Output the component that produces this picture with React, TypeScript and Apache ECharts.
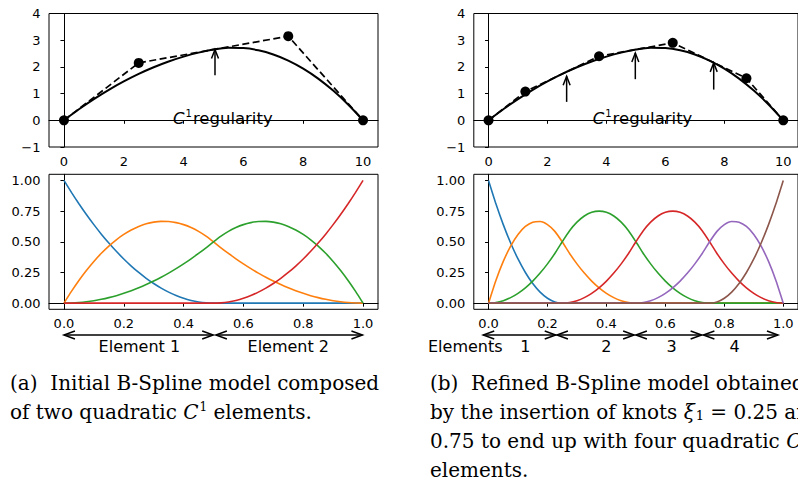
import React, { useEffect, useRef } from 'react';
import * as echarts from 'echarts';

// ---- data ----
const CURVE_X = [0, 0.5, 1, 1.5, 2, 2.5, 3, 3.5, 4, 4.5, 5, 5.5, 6, 6.5, 7, 7.5, 8, 8.5, 9, 9.5, 10];
const CURVE_Y = [0, 0.414, 0.794, 1.142, 1.456, 1.738, 1.986, 2.202, 2.384, 2.534, 2.65, 2.714, 2.704, 2.622, 2.466, 2.238, 1.936, 1.562, 1.114, 0.594, 0];
const CTRL_A_X = [0, 2.5, 7.5, 10];
const CTRL_A_Y = [0, 2.15, 3.15, 0];
const CTRL_B_X = [0, 1.25, 3.75, 6.25, 8.75, 10];
const CTRL_B_Y = [0, 1.075, 2.4, 2.9, 1.575, 0];
const PARAM = [0, 0.025, 0.05, 0.075, 0.1, 0.125, 0.15, 0.175, 0.2, 0.225, 0.25, 0.275, 0.3, 0.325, 0.35, 0.375, 0.4, 0.425, 0.45, 0.475, 0.5,
  0.525, 0.55, 0.575, 0.6, 0.625, 0.65, 0.675, 0.7, 0.725, 0.75, 0.775, 0.8, 0.825, 0.85, 0.875, 0.9, 0.925, 0.95, 0.975, 1];
const BASIS_A_0 = [1, 0.9025, 0.81, 0.7225, 0.64, 0.5625, 0.49, 0.4225, 0.36, 0.3025, 0.25, 0.2025, 0.16, 0.1225, 0.09, 0.0625, 0.04, 0.0225, 0.01, 0.0025, 0,
  0, 0, 0, 0, 0, 0, 0, 0, 0, 0, 0, 0, 0, 0, 0, 0, 0, 0, 0, 0];
const BASIS_A_1 = [0, 0.09625, 0.185, 0.26625, 0.34, 0.40625, 0.465, 0.51625, 0.56, 0.59625, 0.625, 0.64625, 0.66, 0.66625, 0.665, 0.65625, 0.64, 0.61625, 0.585, 0.54625, 0.5,
  0.45125, 0.405, 0.36125, 0.32, 0.28125, 0.245, 0.21125, 0.18, 0.15125, 0.125, 0.10125, 0.08, 0.06125, 0.045, 0.03125, 0.02, 0.01125, 0.005, 0.00125, 0];
const BASIS_A_2 = [0, 0.00125, 0.005, 0.01125, 0.02, 0.03125, 0.045, 0.06125, 0.08, 0.10125, 0.125, 0.15125, 0.18, 0.21125, 0.245, 0.28125, 0.32, 0.36125, 0.405, 0.45125, 0.5,
  0.54625, 0.585, 0.61625, 0.64, 0.65625, 0.665, 0.66625, 0.66, 0.64625, 0.625, 0.59625, 0.56, 0.51625, 0.465, 0.40625, 0.34, 0.26625, 0.185, 0.09625, 0];
const BASIS_A_3 = [0, 0, 0, 0, 0, 0, 0, 0, 0, 0, 0, 0, 0, 0, 0, 0, 0, 0, 0, 0, 0,
  0.0025, 0.01, 0.0225, 0.04, 0.0625, 0.09, 0.1225, 0.16, 0.2025, 0.25, 0.3025, 0.36, 0.4225, 0.49, 0.5625, 0.64, 0.7225, 0.81, 0.9025, 1];
const BASIS_B_0 = [1, 0.81, 0.64, 0.49, 0.36, 0.25, 0.16, 0.09, 0.04, 0.01, 0,
  0, 0, 0, 0, 0, 0, 0, 0, 0, 0, 0, 0, 0, 0, 0, 0, 0, 0, 0, 0, 0, 0, 0, 0, 0, 0, 0, 0, 0, 0];
const BASIS_B_1 = [0, 0.185, 0.34, 0.465, 0.56, 0.625, 0.66, 0.665, 0.64, 0.585, 0.5, 0.405, 0.32, 0.245, 0.18, 0.125, 0.08, 0.045, 0.02, 0.005, 0,
  0, 0, 0, 0, 0, 0, 0, 0, 0, 0, 0, 0, 0, 0, 0, 0, 0, 0, 0, 0];
const BASIS_B_2 = [0, 0.005, 0.02, 0.045, 0.08, 0.125, 0.18, 0.245, 0.32, 0.405, 0.5, 0.59, 0.66, 0.71, 0.74, 0.75, 0.74, 0.71, 0.66, 0.59, 0.5,
  0.405, 0.32, 0.245, 0.18, 0.125, 0.08, 0.045, 0.02, 0.005, 0, 0, 0, 0, 0, 0, 0, 0, 0, 0, 0];
const BASIS_B_3 = [0, 0, 0, 0, 0, 0, 0, 0, 0, 0, 0, 0.005, 0.02, 0.045, 0.08, 0.125, 0.18, 0.245, 0.32, 0.405, 0.5,
  0.59, 0.66, 0.71, 0.74, 0.75, 0.74, 0.71, 0.66, 0.59, 0.5, 0.405, 0.32, 0.245, 0.18, 0.125, 0.08, 0.045, 0.02, 0.005, 0];
const BASIS_B_4 = [0, 0, 0, 0, 0, 0, 0, 0, 0, 0, 0, 0, 0, 0, 0, 0, 0, 0, 0, 0, 0,
  0.005, 0.02, 0.045, 0.08, 0.125, 0.18, 0.245, 0.32, 0.405, 0.5, 0.585, 0.64, 0.665, 0.66, 0.625, 0.56, 0.465, 0.34, 0.185, 0];
const BASIS_B_5 = [0, 0, 0, 0, 0, 0, 0, 0, 0, 0, 0, 0, 0, 0, 0, 0, 0, 0, 0, 0, 0, 0, 0, 0, 0, 0, 0, 0, 0, 0,
  0, 0.01, 0.04, 0.09, 0.16, 0.25, 0.36, 0.49, 0.64, 0.81, 1];
const TOP_X_TICKS = [0, 2, 4, 6, 8, 10];
const TOP_Y_TICKS = [-1, 0, 1, 2, 3, 4];
const BOTTOM_X_TICKS = [0, 0.2, 0.4, 0.6, 0.8, 1.0];
const BOTTOM_Y_TICKS = [0, 0.25, 0.5, 0.75, 1.0];
// knot arrows in top panels: [x, yTail, yHead]
const ARROWS_A = [[5.05, 1.69, 2.65]];
const ARROWS_B = [[2.65, 0.69, 1.65], [4.98, 1.54, 2.52], [7.64, 1.15, 2.15]];
// element spans in parameter space
const ELEMENTS_A = [[0, 0.499], [0.508, 0.998]];
const ELEMENTS_B = [[-0.018, 0.228], [0.232, 0.494], [0.5, 0.723], [0.729, 0.982]];
const ELEMENT_LABELS_A = [['Element 1', 0.252], ['Element 2', 0.75]];
const ELEMENT_LABELS_B = [['1', 0.125], ['2', 0.4], ['3', 0.621], ['4', 0.835]];

const COLORS = ['#1f77b4', '#ff7f0e', '#2ca02c', '#d62728', '#9467bd', '#8c564b'];
const SANS = 'DejaVu Sans';
const SERIF = 'DejaVu Serif';

const zip = (a: number[], b: number[]) => a.map((v, i) => [v, b[i]]);

function xAxisCfg(grid: number, min: number, max: number, ticks: number[], digits: number, margin: number) {
  return {
    gridIndex: grid, type: 'value', min, max,
    axisLine: { show: true, lineStyle: { color: '#000', width: 1 } },
    axisTick: { show: true, length: 3.5, customValues: ticks, lineStyle: { color: '#000', width: 1 } },
    axisLabel: {
      customValues: ticks, color: '#000', fontFamily: SANS, fontSize: 13, margin,
      formatter: (v: number) => v.toFixed(digits),
    },
    splitLine: { show: false },
  };
}
function yAxisCfg(grid: number, min: number, max: number, ticks: number[], digits: number) {
  return {
    gridIndex: grid, type: 'value', min, max,
    axisLine: { show: true, lineStyle: { color: '#000', width: 1 } },
    axisTick: { show: true, length: 3.5, customValues: ticks, lineStyle: { color: '#000', width: 1 } },
    axisLabel: {
      customValues: ticks, color: '#000', fontFamily: SANS, fontSize: 13, margin: 8.5,
      formatter: (v: number) => v.toFixed(digits).replace('-', '\u2212'),
    },
    splitLine: { show: false },
  };
}

export default function App() {
  const ref = useRef<HTMLDivElement>(null);
  useEffect(() => {
    if (!ref.current) return;
    const chart = echarts.init(ref.current, undefined, { renderer: 'svg' });
    const gridBase = { show: true, borderColor: '#000', borderWidth: 1, backgroundColor: 'transparent', containLabel: false };
    const series: any[] = [];
    const dash = { color: '#000', width: 1.7, type: [7, 3.5] };
    // top-left
    series.push({ type: 'line', xAxisIndex: 0, yAxisIndex: 0, data: zip(CURVE_X, CURVE_Y), smooth: 0.3, showSymbol: false, symbol: 'none', lineStyle: { color: '#000', width: 2 }, z: 3 });
    series.push({ type: 'line', xAxisIndex: 0, yAxisIndex: 0, data: zip(CTRL_A_X, CTRL_A_Y), symbol: 'circle', symbolSize: 10, itemStyle: { color: '#000' }, lineStyle: dash, z: 4 });
    // top-right
    series.push({ type: 'line', xAxisIndex: 1, yAxisIndex: 1, data: zip(CURVE_X, CURVE_Y), smooth: 0.3, showSymbol: false, symbol: 'none', lineStyle: { color: '#000', width: 2 }, z: 3 });
    series.push({ type: 'line', xAxisIndex: 1, yAxisIndex: 1, data: zip(CTRL_B_X, CTRL_B_Y), symbol: 'circle', symbolSize: 10, itemStyle: { color: '#000' }, lineStyle: dash, z: 4 });
    // bottom-left
    [BASIS_A_0, BASIS_A_1, BASIS_A_2, BASIS_A_3].forEach((b, i) => {
      series.push({ type: 'line', xAxisIndex: 2, yAxisIndex: 2, data: zip(PARAM, b), smooth: 0.2, symbol: 'none', lineStyle: { color: COLORS[i], width: 1.6 }, z: 2 + i });
    });
    // bottom-right
    [BASIS_B_0, BASIS_B_1, BASIS_B_2, BASIS_B_3, BASIS_B_4, BASIS_B_5].forEach((b, i) => {
      series.push({ type: 'line', xAxisIndex: 3, yAxisIndex: 3, data: zip(PARAM, b), smooth: 0.2, symbol: 'none', lineStyle: { color: COLORS[i], width: 1.6 }, z: 2 + i });
    });

    chart.setOption({
      animation: false,
      backgroundColor: '#fff',
      grid: [
        { ...gridBase, left: 49, top: 13.5, width: 329, height: 133.5 },
        { ...gridBase, left: 473.8, top: 13.5, width: 328.5, height: 133.5 },
        { ...gridBase, left: 49, top: 174.3, width: 329, height: 135 },
        { ...gridBase, left: 473.8, top: 174.3, width: 328.5, height: 135 },
      ],
      xAxis: [
        xAxisCfg(0, -0.5, 10.5, TOP_X_TICKS, 0, 8),
        xAxisCfg(1, -0.5, 10.5, TOP_X_TICKS, 0, 8),
        xAxisCfg(2, -0.05, 1.05, BOTTOM_X_TICKS, 1, 8),
        xAxisCfg(3, -0.05, 1.05, BOTTOM_X_TICKS, 1, 8),
      ],
      yAxis: [
        { ...yAxisCfg(0, -1, 4, TOP_Y_TICKS, 0), interval: 1 },
        { ...yAxisCfg(1, -1, 4, TOP_Y_TICKS, 0), interval: 1 },
        yAxisCfg(2, -0.05, 1.05, BOTTOM_Y_TICKS, 2),
        yAxisCfg(3, -0.05, 1.05, BOTTOM_Y_TICKS, 2),
      ],
      series,
    });

    const px = (g: number, x: number, y: number) => chart.convertToPixel({ gridIndex: g } as any, [x, y]) as number[];
    const graphics: any[] = [];
    const head = (tip: number[], dx: number, dy: number, len: number, hw: number) => {
      const bx = tip[0] - dx * len, by = tip[1] - dy * len;
      const pxn = -dy, pyn = dx;
      return {
        type: 'polyline', silent: true,
        shape: { points: [[bx + pxn * hw, by + pyn * hw], tip, [bx - pxn * hw, by - pyn * hw]] },
        style: { stroke: '#000', lineWidth: 1.5, fill: 'none' },
      };
    };
    const upArrow = (g: number, a: number[]) => {
      const t = px(g, a[0], a[1]);
      const h = px(g, a[0], a[2]);
      graphics.push({ type: 'line', silent: true, shape: { x1: t[0], y1: t[1], x2: h[0], y2: h[1] }, style: { stroke: '#000', lineWidth: 1.5 } });
      graphics.push(head(h, 0, -1, 9, 3.5));
    };
    ARROWS_A.forEach((a) => upArrow(0, a));
    ARROWS_B.forEach((a) => upArrow(1, a));

    const ROW_Y = 335;
    const LABEL_Y = 346;
    const dbl = (g: number, s: number[]) => {
      const a = [px(g, s[0], 0)[0], ROW_Y];
      const b = [px(g, s[1], 0)[0], ROW_Y];
      graphics.push({ type: 'line', silent: true, shape: { x1: a[0], y1: a[1], x2: b[0], y2: b[1] }, style: { stroke: '#000', lineWidth: 1.5 } });
      graphics.push(head(a, -1, 0, 11, 4));
      graphics.push(head(b, 1, 0, 11, 4));
    };
    ELEMENTS_A.forEach((s) => dbl(2, s));
    ELEMENTS_B.forEach((s) => dbl(3, s));
    const lbl = (x: number, t: string, align: string) => ({
      type: 'text', silent: true, x, y: LABEL_Y,
      style: { text: t, fontFamily: SANS, fontSize: 16, fill: '#000', align, verticalAlign: 'middle' },
    });
    ELEMENT_LABELS_A.forEach(([t, x]) => graphics.push(lbl(px(2, x as number, 0)[0], t as string, 'center')));
    ELEMENT_LABELS_B.forEach(([t, x]) => graphics.push(lbl(px(3, x as number, 0)[0], t as string, 'center')));
    graphics.push(lbl(428, 'Elements', 'left'));

    // C^1 regularity annotations
    const reg = (x: number) => ({
      type: 'text', silent: true, x, y: 118.5,
      style: {
        text: '{i|C}{s|1}regularity', fontFamily: SANS, fontSize: 16.5, lineHeight: 24, fill: '#000', align: 'left', verticalAlign: 'middle',
        rich: {
          i: { fontStyle: 'italic', fontFamily: SANS, fontSize: 16.5, fill: '#000' },
          s: { fontFamily: SANS, fontSize: 10, fill: '#000', padding: [0, 1, 10, 1] },
        },
      },
    });
    graphics.push(reg(173));
    graphics.push(reg(592.7));

    // captions
    const cap = (x: number, y: number, text: string) => ({
      type: 'text', silent: true, x, y,
      style: {
        text, fontFamily: SERIF, fontSize: 20, lineHeight: 30, fill: '#000', align: 'left', verticalAlign: 'middle',
        rich: {
          i: { fontStyle: 'italic', fontFamily: SERIF, fontSize: 20, fill: '#000' },
          sup: { fontFamily: SERIF, fontSize: 12, fill: '#000', padding: [0, 0, 10, 1] },
          sub: { fontFamily: SERIF, fontSize: 13, fill: '#000', padding: [8, 0, 0, 1] },
        },
      },
    });
    graphics.push(cap(10, 382.5, '(a)  Initial B-Spline model composed'));
    graphics.push(cap(10, 411.5, 'of two quadratic {i|C}{sup|1} elements.'));
    graphics.push(cap(430, 382.5, '(b)  Refined B-Spline model obtained'));
    graphics.push(cap(430, 411.5, 'by the insertion of knots {i|ξ}{sub|1} = 0.25 and'));
    graphics.push(cap(430, 440.5, '0.75 to end up with four quadratic {i|C}{sup|1}'));
    graphics.push(cap(430, 469.5, 'elements.'));

    chart.setOption({ graphic: graphics });
    return () => chart.dispose();
  }, []);
  return <div ref={ref} style={{ position: 'absolute', left: 0, top: 0, width: 798, height: 485 }} />;
}
